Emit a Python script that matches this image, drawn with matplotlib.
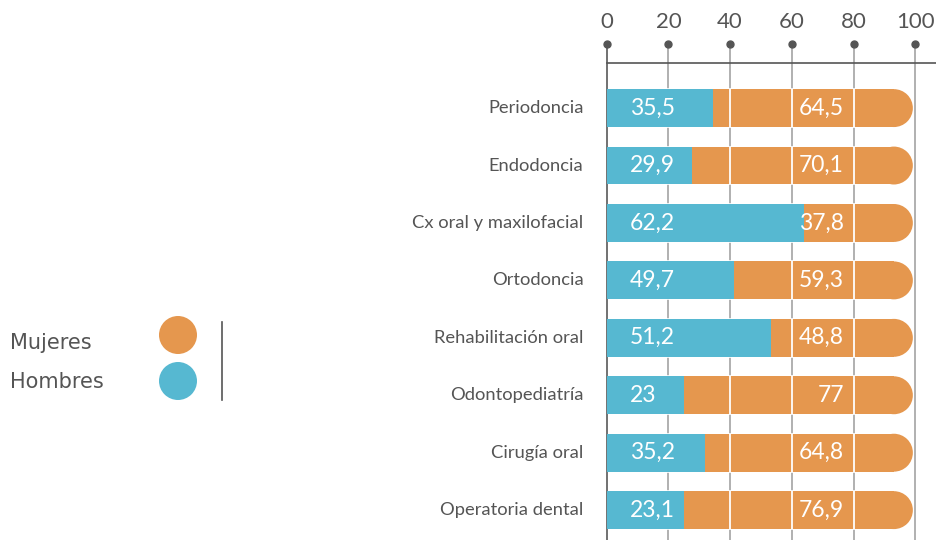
import matplotlib.pyplot as plt
from matplotlib.patches import Ellipse, Circle
from matplotlib.transforms import blended_transform_factory

categories = ["Periodoncia", "Endodoncia", "Cx oral y maxilofacial", "Ortodoncia",
              "Rehabilitación oral", "Odontopediatría", "Cirugía oral", "Operatoria dental"]
hombres_label = ["35,5", "29,9", "62,2", "49,7", "51,2", "23", "35,2", "23,1"]
mujeres_label = ["64,5", "70,1", "37,8", "59,3", "48,8", "77", "64,8", "76,9"]
# length of the blue segment as drawn in the picture
hombres_bar = [34.6, 27.6, 63.9, 41.2, 53.3, 25.0, 31.9, 25.0]
bar_total = 99.2
ticks = [0, 20, 40, 60, 80, 100]

orange = "#E5974E"
blue = "#56B8D1"
grey = "#555555"
font = ["Lato", "DejaVu Sans"]

fig = plt.figure(figsize=(9.36, 5.4), dpi=100)
xmin, xmax = -1, 106.7
ax = fig.add_axes([603.6 / 936, 0, 1 - 603.6 / 936, 1 - 63.3 / 540])
ax.set_xlim(xmin, xmax)
ax.set_ylim(7.52, -0.78)
ax.axis("off")

px_per_unit = ax.get_position().width * 936 / (xmax - xmin)
h = 0.66
r = (h / 2 * 57.4) / px_per_unit  # cap radius in x units

trans = blended_transform_factory(ax.transData, ax.transAxes)
top_dot = 1 + (63.3 - 44) / 476.7
label_y = 1 + (63.3 - 22) / 476.7

# grid lines and top axis
for t in ticks:
    ax.plot([t, t], [0, top_dot], transform=trans, clip_on=False,
            color="#666666" if t == 0 else "#aaaaaa", lw=1.3, zorder=1)
    ax.plot([t], [top_dot], "o", transform=trans, clip_on=False, color=grey, ms=5, zorder=3)
    ax.text(t, label_y, str(t), transform=trans, ha="center", va="center",
            fontsize=16, color=grey, family=font)
ax.plot([0, xmax], [1, 1], transform=trans, clip_on=False, color=grey, lw=1.2)

for i, cat in enumerate(categories):
    # orange full bar with rounded end
    ax.barh(i, bar_total - r, left=0, height=h, color=orange, lw=0, zorder=2)
    ax.add_patch(Ellipse((bar_total - r, i), 2 * r, h, facecolor=orange, lw=0, zorder=2))
    for t in ticks[1:-1]:
        ax.plot([t, t], [i - h / 2, i + h / 2], color="white", lw=1.3, zorder=2.5)
    ax.barh(i, hombres_bar[i], left=0, height=h, color=blue, lw=0, zorder=3)
    ax.text(7.5, i, hombres_label[i], ha="left", va="center", color="white",
            fontsize=16.5, family=font, zorder=4)
    ax.text(76.9, i, mujeres_label[i], ha="right", va="center", color="white",
            fontsize=16.5, family=font, zorder=4)
    ax.text(-7.5, i, cat, ha="right", va="center", color=grey,
            fontsize=13.2, family=font)

# legend
lg = fig.add_axes([0, 0, 1, 1], zorder=-1)
lg.set_xlim(0, 936)
lg.set_ylim(540, 0)
lg.axis("off")
lg.text(10, 343, "Mujeres", ha="left", va="center", fontsize=15, color=grey, family="DejaVu Sans")
lg.text(10, 382, "Hombres", ha="left", va="center", fontsize=15, color=grey, family="DejaVu Sans")
lg.add_patch(Circle((178, 335), 19, facecolor=orange, lw=0))
lg.add_patch(Circle((178, 381), 19, facecolor=blue, lw=0))
lg.plot([222, 222], [322, 400], color=grey, lw=1.2)

fig.savefig("out.png", dpi=100)
